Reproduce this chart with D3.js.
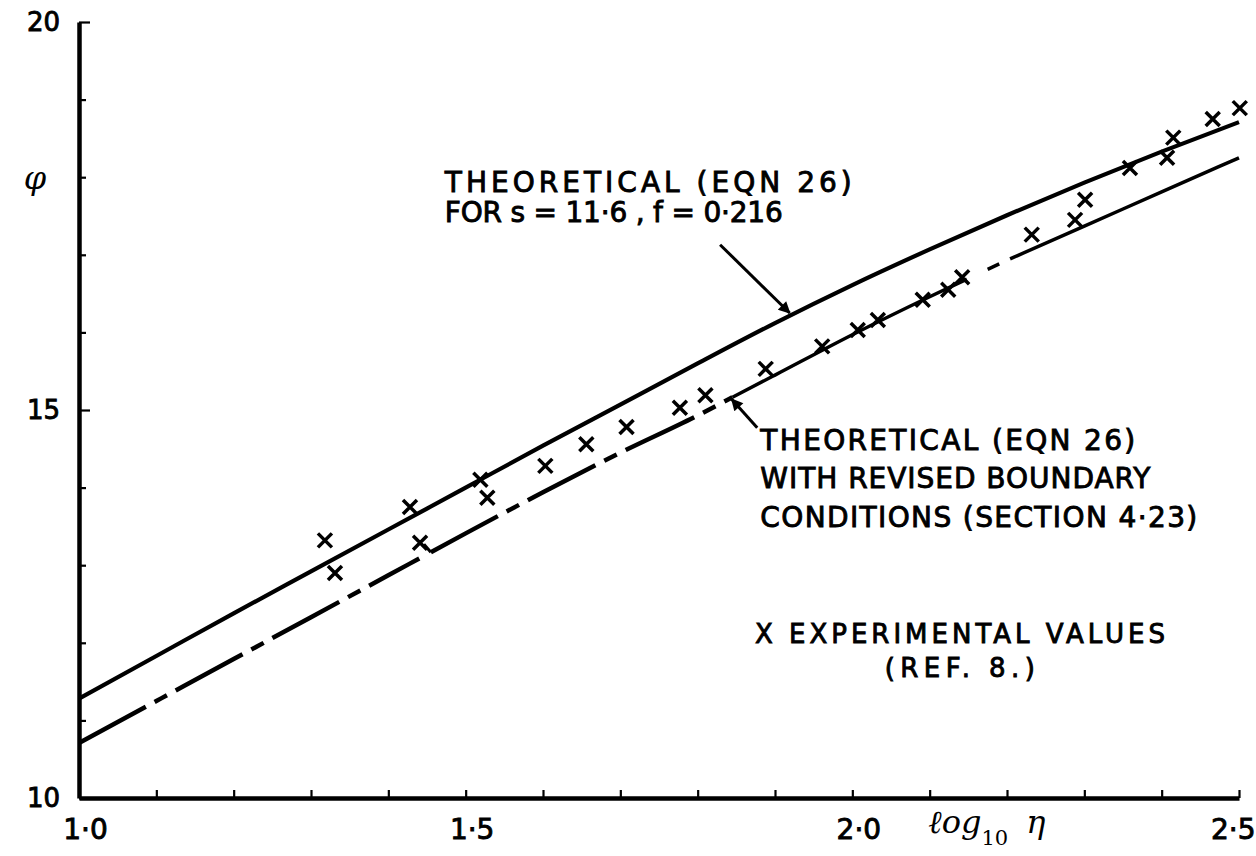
<!DOCTYPE html>
<html>
<head>
<meta charset="utf-8">
<script src="https://cdn.jsdelivr.net/npm/d3@7"></script>
<style>
  body { margin: 0; background: #fff; }
  svg { display: block; }
  .note { font-family: "DejaVu Sans", sans-serif; fill: #000; stroke: #000; stroke-width: 0.9; }
</style>
</head>
<body>
<div class="chart"></div>
<script>
// values (x = log10 eta, y = phi)
var curveX = [1.0, 1.1, 1.2, 1.3, 1.4, 1.5, 1.6, 1.7, 1.8, 1.9, 2.0, 2.1, 2.2, 2.3, 2.4, 2.5];
var theoryPhi = [11.28, 11.83, 12.38, 12.92, 13.46, 14.0, 14.54, 15.07, 15.6, 16.12, 16.61, 17.07, 17.51, 17.93, 18.33, 18.71];
var revisedPhi = [10.71, 11.25, 11.79, 12.33, 12.87, 13.41, 13.94, 14.45, 14.93, 15.45, 15.97, 16.46, 16.93, 17.37, 17.81, 18.25];

var expX = [1.318, 1.331, 1.428, 1.441, 1.519, 1.528, 1.603, 1.656, 1.708, 1.777, 1.810, 1.888, 1.961, 2.007, 2.033, 2.091, 2.124, 2.142, 2.232, 2.288, 2.301, 2.359, 2.407, 2.415, 2.466, 2.501];
var expPhi = [13.32, 12.90, 13.75, 13.29, 14.10, 13.87, 14.28, 14.56, 14.78, 15.03, 15.19, 15.53, 15.82, 16.03, 16.16, 16.42, 16.55, 16.71, 17.26, 17.45, 17.71, 18.12, 18.25, 18.51, 18.75, 18.89];

// pieces of the revised curve: x ranges and whether they are dash-dot
var revisedPieces = [
  {from: 1.0, to: 1.44, dashed: true},
  {from: 1.455, to: 1.845, dashed: true},
  {from: 1.845, to: 2.148, dashed: false},
  {from: 2.175, to: 2.19, dashed: false},
  {from: 2.204, to: 2.5, dashed: false}
];

var xTicks = d3.range(10, 26).map(function (d) { return d / 10; });
var xLabels = {"1": "1·0", "1.5": "1·5", "2": "2·0", "2.5": "2·5"};
var yTicks = d3.range(10, 21);
var yLabels = [10, 15, 20];

var W = 1256, H = 856;

var svg = d3.select(".chart").append("svg")
  .attr("width", W)
  .attr("height", H);

svg.append("rect").attr("width", W).attr("height", H).attr("fill", "#fff");

var x = d3.scaleLinear().domain([1.0, 2.5]).range([79, 1239]);
var y = d3.scaleLinear().domain([10, 20]).range([798, 22]);

var defs = svg.append("defs");
defs.append("marker")
  .attr("id", "head")
  .attr("viewBox", "0 0 10 10")
  .attr("refX", 9).attr("refY", 5)
  .attr("markerWidth", 5).attr("markerHeight", 4)
  .attr("markerUnits", "strokeWidth")
  .attr("orient", "auto")
  .append("path")
  .attr("d", "M0,0 L10,5 L0,10 Z")
  .attr("fill", "#000");

// axes - ticks point inwards
var xAxis = d3.axisBottom(x)
  .tickValues(xTicks)
  .tickSizeInner(-8)
  .tickSizeOuter(0)
  .tickPadding(40)
  .tickFormat(function (d) { return xLabels[String(+d.toFixed(1))] || ""; });

var gx = svg.append("g")
  .attr("transform", "translate(0," + y(10) + ")")
  .call(xAxis);
gx.select(".domain").attr("stroke-width", 4.5).attr("stroke", "#000");
gx.selectAll(".tick line").attr("stroke-width", 2.2).attr("stroke", "#000");
gx.selectAll(".tick text")
  .attr("dy", null)
  .attr("y", 41)
  .attr("font-family", "DejaVu Sans, sans-serif")
  .attr("font-size", 28)
  .attr("fill", "#000")
  .attr("stroke", "#000")
  .attr("stroke-width", 0.9)
  .attr("text-anchor", function (d) { return d > 2.45 ? "end" : "middle"; })
  .attr("x", function (d) { return d > 2.45 ? 16 : 6; });

var yAxis = d3.axisLeft(y)
  .tickValues(yTicks)
  .tickSizeInner(-8)
  .tickSizeOuter(0)
  .tickPadding(19)
  .tickFormat(function (d) { return yLabels.indexOf(d) >= 0 ? d : ""; });

var gy = svg.append("g")
  .attr("transform", "translate(" + x(1.0) + ",0)")
  .call(yAxis);
gy.select(".domain").attr("stroke-width", 4.5).attr("stroke", "#000");
gy.selectAll(".tick line")
  .attr("stroke-width", 2.2).attr("stroke", "#000")
  .attr("x2", function (d) { return yLabels.indexOf(d) >= 0 ? 11 : 7; });
gy.selectAll(".tick text")
  .attr("font-family", "DejaVu Sans, sans-serif")
  .attr("font-size", 26)
  .attr("fill", "#000")
  .attr("stroke", "#000")
  .attr("stroke-width", 0.9);

// axis titles
svg.append("text")
  .attr("x", x(1.0) - 44).attr("y", y(17.85))
  .attr("text-anchor", "middle")
  .attr("font-family", "DejaVu Serif, serif")
  .attr("font-style", "italic")
  .attr("font-size", 32)
  .text("φ");

var xt = svg.append("text")
  .attr("x", x(2.0) + 76).attr("y", y(10) + 35)
  .attr("font-family", "DejaVu Serif, serif")
  .attr("font-style", "italic")
  .attr("font-size", 32);
xt.append("tspan").text("ℓog");
xt.append("tspan").attr("dy", 12).attr("font-size", 21).attr("font-style", "normal").text("10");
xt.append("tspan").attr("dy", -12).attr("dx", 18).text("η");

// theoretical curve
var line = d3.line()
  .x(function (d) { return x(d[0]); })
  .y(function (d) { return y(d[1]); })
  .curve(d3.curveMonotoneX);

svg.append("path")
  .datum(d3.zip(curveX, theoryPhi))
  .attr("fill", "none")
  .attr("stroke", "#000")
  .attr("stroke-width", 4.2)
  .attr("d", line);

// revised curve, drawn in pieces
var revised = d3.scaleLinear().domain(curveX).range(revisedPhi);

revisedPieces.forEach(function (p) {
  var xs = [p.from].concat(curveX.filter(function (v) { return v > p.from && v < p.to; }), [p.to]);
  svg.append("path")
    .datum(xs.map(function (v) { return [v, revised(v)]; }))
    .attr("fill", "none")
    .attr("stroke", "#000")
    .attr("stroke-width", p.dashed ? 4.5 : 3.5)
    .attr("stroke-dasharray", p.dashed ? "76,10,14,10" : null)
    .attr("d", line);
});

// little hook at the start of the second piece
svg.append("path")
  .attr("fill", "none").attr("stroke", "#000").attr("stroke-width", 3)
  .attr("d", d3.line()([[x(1.446), y(13.27)], [x(1.455), y(revised(1.455))]]));

// experimental values
svg.selectAll("path.cross")
  .data(d3.zip(expX, expPhi))
  .join("path")
  .attr("class", "cross")
  .attr("fill", "none")
  .attr("stroke", "#000")
  .attr("stroke-width", 3.5)
  .attr("d", function (d) {
    var cx = x(d[0]), cy = y(d[1]), r = 7;
    return "M" + (cx - r) + "," + (cy - r) + "L" + (cx + r) + "," + (cy + r) +
      "M" + (cx - r) + "," + (cy + r) + "L" + (cx + r) + "," + (cy - r);
  });

// annotations
var notes = [
  {x: 1.473, y: 17.81, size: 28, len: 407, text: "THEORETICAL (EQN 26)"},
  {x: 1.473, y: 17.42, size: 28, len: 338, text: "FOR s = 11·6 , f = 0·216"},
  {x: 1.881, y: 14.48, size: 28, len: 375, text: "THEORETICAL (EQN 26)"},
  {x: 1.881, y: 13.99, size: 28, len: 390, text: "WITH REVISED BOUNDARY"},
  {x: 1.881, y: 13.49, size: 28, len: 437, text: "CONDITIONS (SECTION 4·23)"},
  {x: 1.874, y: 12.0, size: 26, len: 410, text: "X EXPERIMENTAL VALUES"},
  {x: 2.042, y: 11.56, size: 26, len: 150, text: "(REF. 8.)"}
];

svg.selectAll("text.note")
  .data(notes)
  .join("text")
  .attr("class", "note")
  .attr("x", function (d) { return x(d.x); })
  .attr("y", function (d) { return y(d.y); })
  .attr("font-size", function (d) { return d.size; })
  .attr("textLength", function (d) { return d.len; })
  .attr("lengthAdjust", "spacing")
  .text(function (d) { return d.text; });

var arrows = [
  {x1: 1.829, y1: 17.13, x2: 1.919, y2: 16.25},
  {x1: 1.877, y1: 14.77, x2: 1.844, y2: 15.14}
];

svg.selectAll("line.arrow")
  .data(arrows)
  .join("line")
  .attr("class", "arrow")
  .attr("x1", function (d) { return x(d.x1); })
  .attr("y1", function (d) { return y(d.y1); })
  .attr("x2", function (d) { return x(d.x2); })
  .attr("y2", function (d) { return y(d.y2); })
  .attr("stroke", "#000")
  .attr("stroke-width", 3)
  .attr("marker-end", "url(#head)");
</script>
</body>
</html>
